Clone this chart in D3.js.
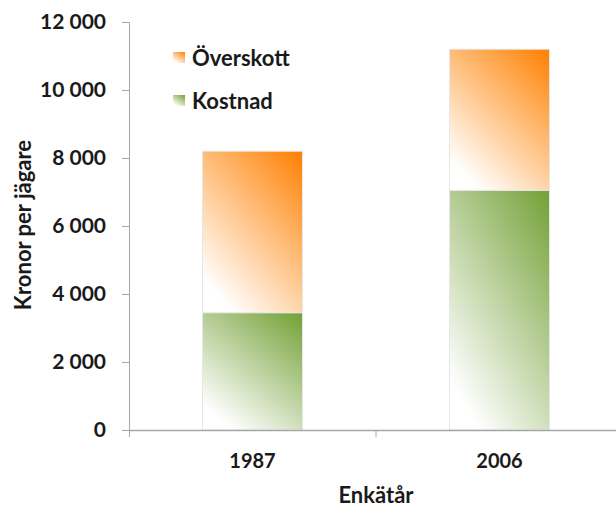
<!DOCTYPE html>
<html>
<head>
<meta charset="utf-8">
<script src="https://cdn.jsdelivr.net/npm/d3@7"></script>
<style>
  body { margin: 0; background: #fff; }
  svg text { font-family: Lato, "Open Sans", sans-serif; font-weight: bold; fill: #1a1a1a; }
</style>
</head>
<body>
<div id="chart"></div>
<script>
// DATA
let YEARS = ["1987", "2006", ""]
let KOSTNAD = [3450, 7050]
let OVERSKOTT = [4750, 4150]
let SERIES = ["Kostnad", "Överskott"]
let Y_TICKS = [0, 2000, 4000, 6000, 8000, 10000, 12000]

let width = 616, height = 507

let svg = d3.select("#chart")
    .append("svg")
    .attr("width", width)
    .attr("height", height)

// gradients
let defs = svg.append("defs")
function addGradient(id, color) {
    let g = defs.append("linearGradient")
        .attr("id", id)
        .attr("x1", 1).attr("y1", 0)
        .attr("x2", 0.3).attr("y2", 1)
    g.append("stop").attr("offset", "0%").attr("stop-color", color)
    g.append("stop").attr("offset", "100%").attr("stop-color", "#ffffff")
}
addGradient("gradOrange", "#ff8000")
addGradient("gradGreen", "#72a035")
let fillFor = { "Kostnad": "url(#gradGreen)", "Överskott": "url(#gradOrange)" }

// scales
let x = d3.scaleBand()
    .domain(YEARS)
    .range([129, 870])
    .paddingInner(0)
    .paddingOuter(0)
let barW = 100

let y = d3.scaleLinear()
    .domain([0, 12000])
    .range([430, 22])

// stack data
let rows = YEARS.slice(0, 2).map(function (yr, i) {
    return { year: yr, "Kostnad": KOSTNAD[i], "Överskott": OVERSKOTT[i] }
})
let stacked = d3.stack().keys(SERIES)(rows)

// bars
svg.selectAll("g.layer")
    .data(stacked)
    .enter()
    .append("g")
    .attr("class", "layer")
    .attr("fill", function (d) { return fillFor[d.key] })
    .selectAll("rect")
    .data(function (d) { return d })
    .enter()
    .append("rect")
    .attr("x", function (d) { return x(d.data.year) + x.bandwidth() / 2 - barW / 2 })
    .attr("y", function (d) { return y(d[1]) })
    .attr("width", barW)
    .attr("height", function (d) { return y(d[0]) - y(d[1]) })
    .attr("stroke", "#e6e6e6")
    .attr("stroke-width", 1)

// Y axis
let yAxis = svg.append("g")
    .attr("transform", "translate(129,0)")
    .call(d3.axisLeft(y)
        .tickValues(Y_TICKS)
        .tickSize(7)
        .tickPadding(16)
        .tickFormat(function (d) { return d3.format(",")(d).replace(",", " ") }))
yAxis.select(".domain").attr("stroke", "#a6a6a6").attr("d", "M-7,22.5H0.5V437")
yAxis.selectAll(".tick line").attr("stroke", "#a6a6a6")
yAxis.selectAll(".tick text").style("font-size", "21px").attr("fill", "#1a1a1a")

// X axis
let xAxis = svg.append("g")
    .attr("transform", "translate(0,430)")
    .call(d3.axisBottom(x).tickSize(0).tickPadding(24))
xAxis.select(".domain").attr("stroke", "#a6a6a6").attr("stroke-width", 1.5)
xAxis.selectAll(".tick text").style("font-size", "20px").attr("fill", "#1a1a1a")
// category boundary ticks
svg.append("g")
    .selectAll("line")
    .data(YEARS.slice(1))
    .enter()
    .append("line")
    .attr("x1", function (d) { return x(d) })
    .attr("x2", function (d) { return x(d) })
    .attr("y1", 430)
    .attr("y2", 437)
    .attr("stroke", "#a6a6a6")

// axis titles
svg.append("text")
    .attr("transform", "translate(31,225) rotate(-90)")
    .attr("text-anchor", "middle")
    .style("font-size", "22px")
    .text("Kronor per jägare")

svg.append("text")
    .attr("x", 376)
    .attr("y", 503)
    .attr("text-anchor", "middle")
    .style("font-size", "22px")
    .text("Enkätår")

// legend
let legend = svg.append("g")
    .selectAll("g")
    .data(SERIES.slice().reverse())
    .enter()
    .append("g")
    .attr("transform", function (d, i) { return "translate(173," + (52 + i * 43) + ")" })
legend.append("rect")
    .attr("width", 12)
    .attr("height", 11)
    .attr("fill", function (d) { return fillFor[d] })
legend.append("text")
    .attr("x", 19)
    .attr("y", 14)
    .style("font-size", "22px")
    .text(function (d) { return d })
</script>
</body>
</html>
